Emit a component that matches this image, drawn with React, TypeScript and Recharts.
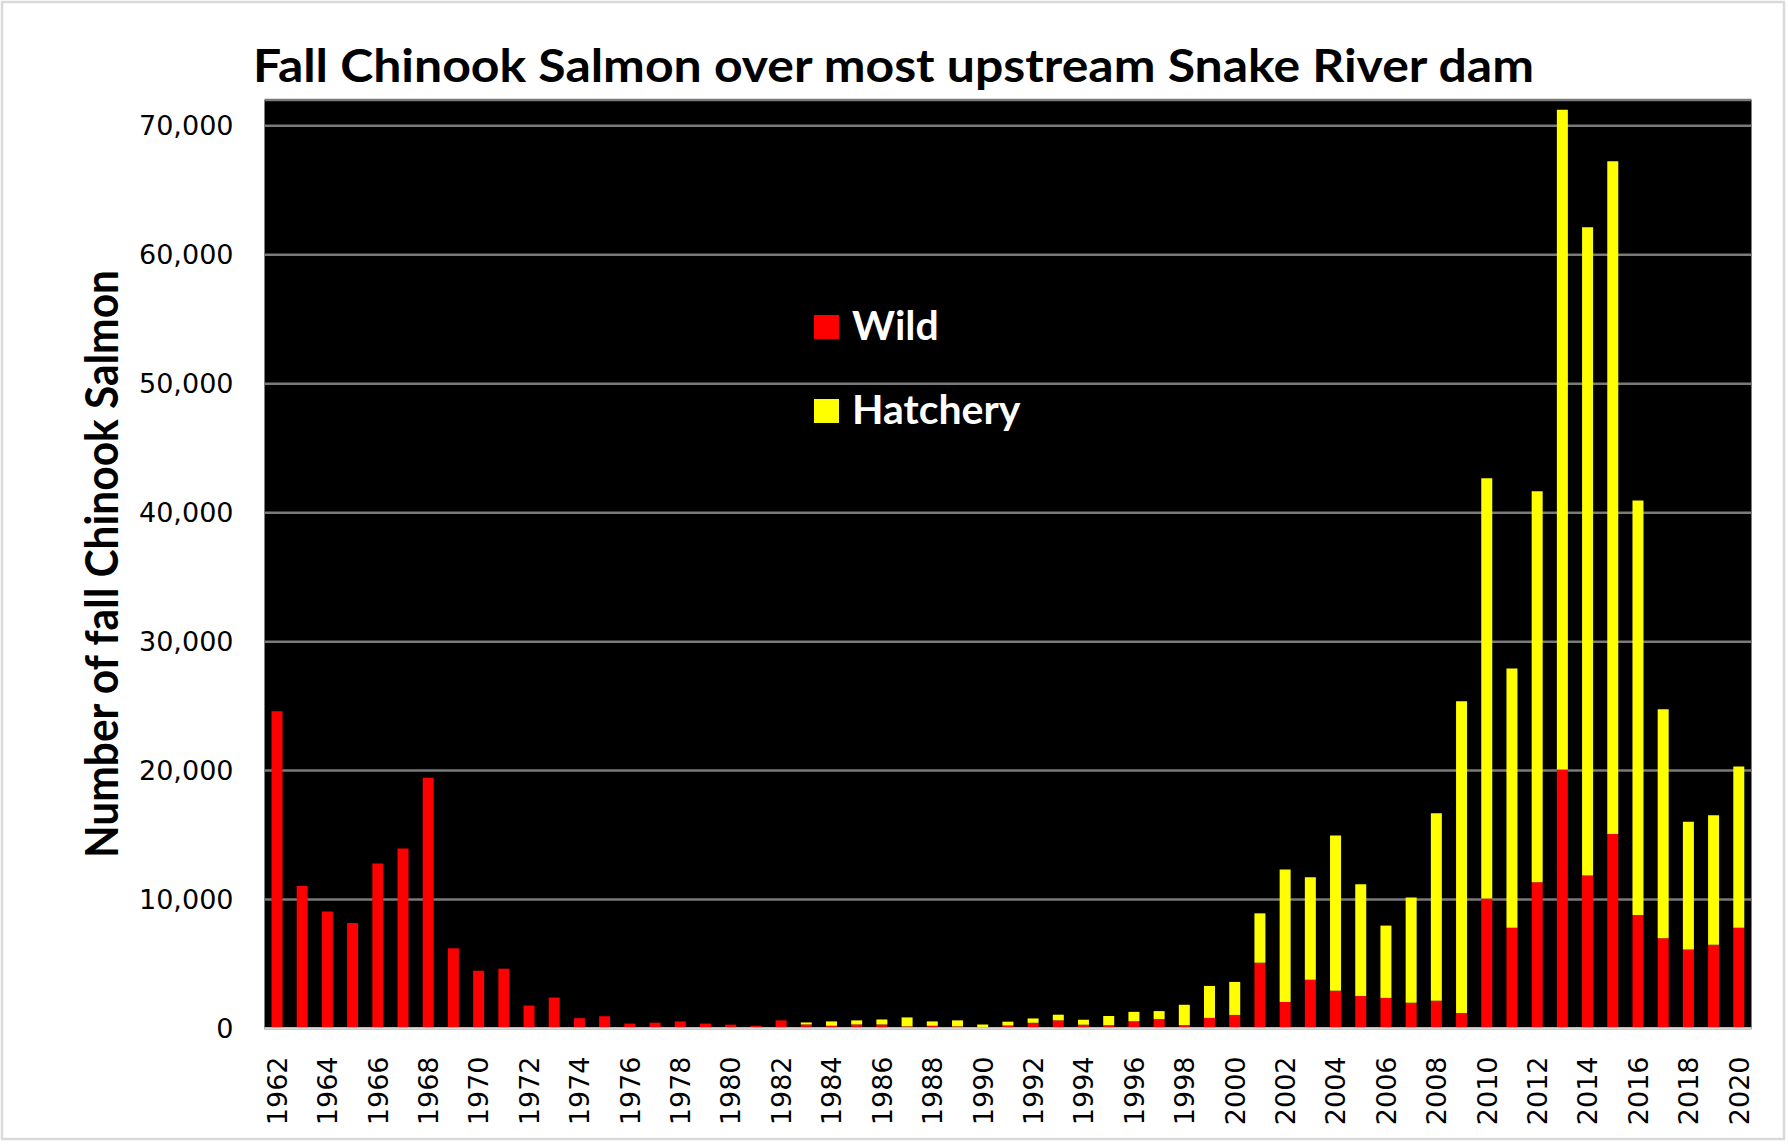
import React from 'react';
import { BarChart, Bar, XAxis, YAxis, CartesianGrid, Legend } from 'recharts';

const years = [
  1962, 1963, 1964, 1965, 1966, 1967, 1968, 1969, 1970, 1971,
  1972, 1973, 1974, 1975, 1976, 1977, 1978, 1979, 1980, 1981,
  1982, 1983, 1984, 1985, 1986, 1987, 1988, 1989, 1990, 1991,
  1992, 1993, 1994, 1995, 1996, 1997, 1998, 1999, 2000, 2001,
  2002, 2003, 2004, 2005, 2006, 2007, 2008, 2009, 2010, 2011,
  2012, 2013, 2014, 2015, 2016, 2017, 2018, 2019, 2020,
];

const wild = [
  24600, 11050, 9080, 8180, 12800, 13950, 19450, 6220, 4480, 4640,
  1780, 2400, 800, 950, 380, 450, 550, 380, 300, 210,
  630, 310, 210, 310, 310, 160, 210, 160, 80, 230,
  440, 630, 290, 250, 560, 730, 260, 820, 1050, 5100,
  2050, 3780, 2920, 2520, 2370, 1990, 2150, 1200, 10090, 7820,
  11350, 20090, 11870, 15090, 8800, 6990, 6130, 6500, 7820,
];

const hatchery = [
  0, 0, 0, 0, 0, 0, 0, 0, 0, 0,
  0, 0, 0, 0, 0, 0, 0, 0, 0, 0,
  0, 160, 340, 320, 390, 700, 340, 470, 230, 300,
  340, 440, 390, 720, 730, 620, 1580, 2480, 2560, 3830,
  10280, 7940, 12050, 8660, 5610, 8170, 14540, 24170, 32580, 20090,
  30310, 51150, 50260, 52170, 32150, 17760, 9910, 10030, 12490,
];

const yTicks = [0, 10000, 20000, 30000, 40000, 50000, 60000, 70000];
const seriesNames = ['Wild', 'Hatchery'];
const seriesColors = ['#ff0000', '#ffff00'];
const chartTitle = 'Fall Chinook Salmon over most upstream Snake River dam';
const yAxisTitle = 'Number of fall Chinook Salmon';

const data = years.map((y, i) => ({
  year: String(y),
  wild: wild[i],
  hatchery: hatchery[i],
}));

const XTick = (props: any) => {
  const { x, y, payload } = props;
  return (
    <text
      transform={`translate(${x},${y}) rotate(-90)`}
      x={-28}
      y={0}
      dy="0.36em"
      textAnchor="end"
      fontFamily="DejaVu Sans"
      fontSize={27}
      fill="#000"
    >
      {payload.value}
    </text>
  );
};

const LegendContent = (props: any) => {
  const raw = props.payload || [];
  const items = [...raw].sort(
    (a: any, b: any) => seriesNames.indexOf(a.value) - seriesNames.indexOf(b.value)
  );
  return (
    <svg width={320} height={160} style={{ display: 'block', overflow: 'visible' }}>
      {items.map((it: any, i: number) => (
        <g key={i}>
          <rect x={0} y={5 + i * 84} width={25} height={24} fill={it.color} />
          <text
            x={38}
            y={30 + i * 84}
            fontFamily="Lato"
            fontWeight="bold"
            fontSize={41}
            fill="#ffffff"
          >
            {it.value}
          </text>
        </g>
      ))}
    </svg>
  );
};

export default function App() {
  return (
    <div
      style={{
        position: 'absolute',
        left: 0,
        top: 0,
        width: 1788,
        height: 1145,
        background: '#ffffff',
      }}
    >
      <BarChart
        width={1788}
        height={1145}
        data={data}
        margin={{ top: 100, right: 36.5, bottom: 0, left: 0 }}
        barSize={11}
      >
        <CartesianGrid
          vertical={false}
          fill="#000000"
          fillOpacity={1}
          stroke="#7a7a7a"
          strokeWidth={2.5}
        />
        <XAxis
          dataKey="year"
          interval={1}
          height={116.5}
          tickSize={0}
          tickMargin={0}
          tickLine={false}
          axisLine={{ stroke: '#d9d9d9', strokeWidth: 2.5 }}
          tick={<XTick />}
        />
        <YAxis
          width={264.5}
          domain={[0, 72000]}
          ticks={yTicks}
          interval={0}
          tickSize={0}
          tickMargin={31}
          tickLine={false}
          axisLine={false}
          tickFormatter={(v: number) => v.toLocaleString('en-US')}
          tick={{ fontSize: 27, fill: '#000', fontFamily: 'DejaVu Sans' }}
        />
        <Legend
          layout="vertical"
          align="center"
          verticalAlign="middle"
          content={<LegendContent />}
          wrapperStyle={{ position: 'absolute', left: 814, top: 310, width: 320, height: 160 }}
        />
        <Bar
          dataKey="wild"
          name={seriesNames[0]}
          stackId="a"
          fill={seriesColors[0]}
          isAnimationActive={false}
        />
        <Bar
          dataKey="hatchery"
          name={seriesNames[1]}
          stackId="a"
          fill={seriesColors[1]}
          isAnimationActive={false}
        />
      </BarChart>
      <svg
        width={1788}
        height={1145}
        style={{ position: 'absolute', left: 0, top: 0, pointerEvents: 'none' }}
      >
        <rect x={2} y={2} width={1782} height={1137} fill="none" stroke="#d9d9d9" strokeWidth={2.5} />
        <text
          x={253}
          y={82}
          fontFamily="Lato"
          fontWeight="bold"
          fontSize={46}
          fill="#000"
          textLength={1281}
          lengthAdjust="spacingAndGlyphs"
        >
          {chartTitle}
        </text>
        <text
          transform="translate(117.5,564) rotate(-90)"
          textAnchor="middle"
          fontFamily="Lato"
          fontWeight="bold"
          fontSize={46}
          fill="#000"
          textLength={588}
          lengthAdjust="spacingAndGlyphs"
        >
          {yAxisTitle}
        </text>
      </svg>
    </div>
  );
}
